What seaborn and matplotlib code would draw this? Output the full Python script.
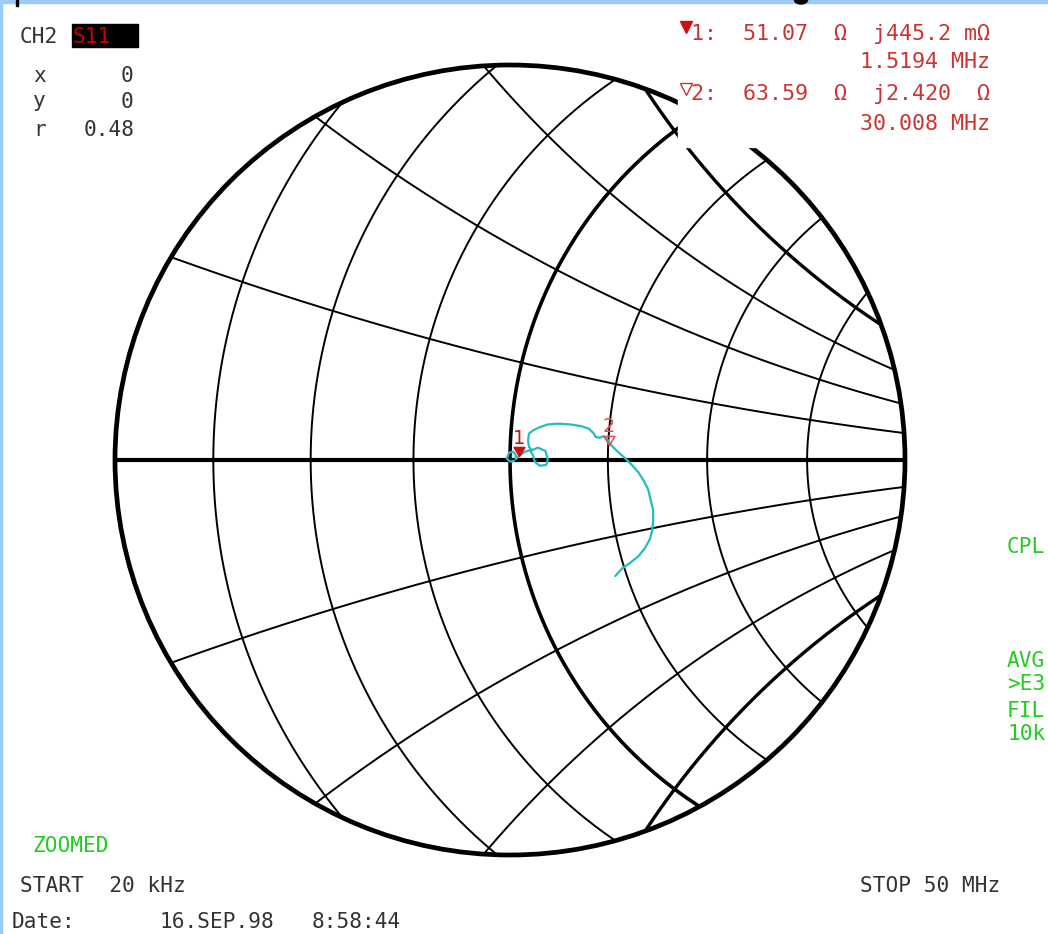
import numpy as np
import matplotlib
matplotlib.use("Agg")
import matplotlib.pyplot as plt
import seaborn as sns
from matplotlib.patches import Circle, Rectangle, Ellipse
from matplotlib.path import Path

# ---------------- data ----------------
zoom_radius = 0.48
resistance_grid = [0.47, 0.61, 0.79, 1.0, 1.27, 1.63, 2.13]
reactance_grid = [0.24, 0.49, 0.74, 1.0]

trace_re = [0.005, 0.000, -0.004, -0.001, 0.004, 0.007, 0.007, 0.011, 0.018, 0.024,
            0.028, 0.030, 0.036, 0.044, 0.046, 0.043, 0.034, 0.027, 0.023, 0.022,
            0.023, 0.028, 0.034, 0.045, 0.055, 0.063, 0.075, 0.087, 0.096, 0.102,
            0.104, 0.109, 0.114, 0.119, 0.124, 0.131, 0.140, 0.148, 0.156, 0.163,
            0.168, 0.171, 0.174, 0.174, 0.173, 0.170, 0.164, 0.156, 0.146, 0.136, 0.128]
trace_im = [-0.001, -0.002, 0.002, 0.009, 0.010, 0.006, 0.001, 0.005, 0.010, 0.012,
            0.006, -0.002, -0.007, -0.006, 0.001, 0.011, 0.015, 0.012, 0.016, 0.024,
            0.032, 0.036, 0.039, 0.043, 0.044, 0.044, 0.043, 0.041, 0.038, 0.032,
            0.028, 0.027, 0.029, 0.024, 0.017, 0.010, 0.002, -0.006, -0.015, -0.026,
            -0.036, -0.049, -0.061, -0.073, -0.085, -0.096, -0.107, -0.117, -0.125, -0.132, -0.141]

Z0 = 50.0
marker_ids = ["1", "2"]
marker_R = [51.07, 63.59]
marker_X = [0.4452, 2.420]
marker_line1 = ["1:  51.07  \u03a9  j445.2 m\u03a9", "2:  63.59  \u03a9  j2.420  \u03a9"]
marker_freq = ["1.5194 MHz", "30.008 MHz"]

# ---------------- style ----------------
sns.set_theme(style="white")
plt.rcParams["font.family"] = ["DejaVu Sans Mono", "DejaVu Sans"]

W, H = 1048, 934
fig = plt.figure(figsize=(W / 100, H / 100), dpi=100)
fig.patch.set_facecolor("white")

CX, CY = 510, 460
PX = 395 / zoom_radius
ax = fig.add_axes([0, 0, 1, 1])
ax.set_xlim(-CX / PX, (W - CX) / PX)
ax.set_ylim(-(H - CY) / PX, CY / PX)
ax.axis("off")

clip = Circle((0, 0), zoom_radius, transform=ax.transData)
theta = np.linspace(0, 2 * np.pi, 8000)

# resistance circles
for r in resistance_grid:
    c = r / (1 + r)
    rad = 1 / (1 + r)
    lw = 2.6 if r == 1.0 else 1.4
    ln, = ax.plot(c + rad * np.cos(theta), rad * np.sin(theta), color="black", lw=lw, zorder=2)
    ln.set_clip_path(clip)

# reactance arcs
for xv in reactance_grid:
    for s in (1, -1):
        rad = 1 / xv
        lw = 2.4 if xv == 1.0 else 1.4
        ln, = ax.plot(1 + rad * np.cos(theta), s * rad + rad * np.sin(theta),
                      color="black", lw=lw, zorder=2)
        ln.set_clip_path(clip)

# real axis and outer circle
ax.plot([-zoom_radius, zoom_radius], [0, 0], color="black", lw=3.0, zorder=3)
ax.add_patch(Circle((0, 0), zoom_radius, fill=False, ec="black", lw=3.4, zorder=3))

# trace
sns.lineplot(x=trace_re, y=trace_im, sort=False, estimator=None, color="#22bdbd",
             lw=1.6, ax=ax, zorder=4, legend=False)

# markers
tri = Path([(-0.6, 1.0), (0.6, 1.0), (0.0, 0.0), (-0.6, 1.0)],
           [Path.MOVETO, Path.LINETO, Path.LINETO, Path.CLOSEPOLY])
for i, (mid, R, X) in enumerate(zip(marker_ids, marker_R, marker_X)):
    z = complex(R, X) / Z0
    g = (z - 1) / (z + 1)
    col = "#cc1111" if i == 0 else "#e05050"
    ax.plot([g.real], [g.imag], marker=tri, ms=13,
            mfc=col if i == 0 else "none", mec=col, mew=1.1, zorder=6)
    ax.annotate(mid, xy=(g.real, g.imag), xytext=(0, 9), textcoords="offset points",
                ha="center", va="baseline", fontsize=14, color=col,
                family=["DejaVu Sans"], zorder=6)

# ---------------- overlay (screen annotations) ----------------
ov = fig.add_axes([0, 0, 1, 1], zorder=5)
ov.set_xlim(0, W)
ov.set_ylim(H, 0)
ov.axis("off")
ov.patch.set_alpha(0)

# blanked readout area
ov.add_patch(Rectangle((678, 0), W - 678, 147, color="white", zorder=1))

# frame
ov.add_patch(Rectangle((0, 0), W, 3, color="#9ccbf5", zorder=2))
ov.add_patch(Rectangle((0, 0), 2, H, color="#9ccbf5", zorder=2))
ov.add_patch(Rectangle((15.5, 0), 2, 6, color="black", zorder=3))
ov.add_patch(Ellipse((801, 0), 13, 8, color="black", zorder=3))

FS = 15.2
gray = "#333333"
red = "#cc3333"
green = "#22cc22"

def t(x, y, s, color=gray, ha="left", fs=FS, **kw):
    ov.text(x, y, s, ha=ha, va="baseline", fontsize=fs, color=color, zorder=4, **kw)

# left block
t(20, 43, "CH2")
ov.add_patch(Rectangle((72, 24), 66, 23, color="black", zorder=3))
t(73, 43, "S11", color="#c80000")
t(33, 82, "x")
t(133, 82, "0", ha="right")
t(33, 107, "y")
t(133, 108, "0", ha="right")
t(33, 136, "r")
t(135, 136, "0.48", ha="right")

# marker readouts
ov.plot([685.5], [27], marker="v", ms=8, color="#cc1111", zorder=4)
ov.plot([685.5], [89], marker="v", ms=8, mfc="none", mec=red, mew=1, zorder=4)
t(990, 40, marker_line1[0], color=red, ha="right", fs=15.6)
t(990, 68, marker_freq[0], color=red, ha="right", fs=15.6)
t(990, 100, marker_line1[1], color=red, ha="right", fs=15.6)
t(990, 130, marker_freq[1], color=red, ha="right", fs=15.6)

# right status
t(1007, 553, "CPL", color=green)
t(1007, 667, "AVG", color=green)
t(1007, 690, ">E3", color=green)
t(1007, 717, "FIL", color=green)
t(1007, 740, "10k", color=green)

# bottom
t(32, 852, "ZOOMED", color=green)
t(20, 892, "START  20 kHz")
t(1000, 892, "STOP 50 MHz", ha="right")
t(12, 928, "Date:")
t(159, 928, "16.SEP.98")
t(312, 928, "8:58:44")

fig.savefig("out.png", dpi=100, facecolor="white")
